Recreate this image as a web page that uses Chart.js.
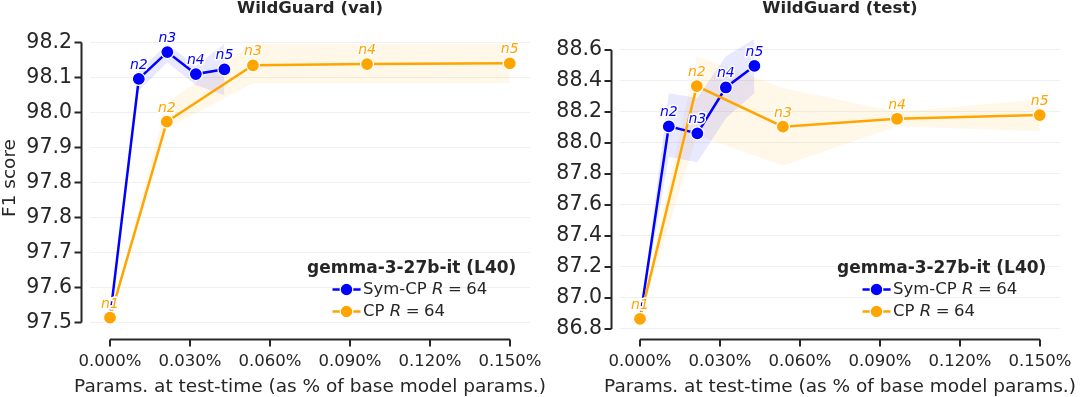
<!DOCTYPE html>
<html>
<head>
<meta charset="utf-8">
<script src="https://cdn.jsdelivr.net/npm/chart.js@4.4.1/dist/chart.umd.min.js"></script>
<style>
  html, body { margin: 0; padding: 0; background: #fff; }
  #wrap { position: relative; width: 1080px; height: 397px; overflow: hidden; }
  canvas { position: absolute; top: 0; }
</style>
</head>
<body>
<div id="wrap">
  <canvas id="valChart" width="560" height="397" style="left:0px"></canvas>
  <canvas id="testChart" width="540" height="397" style="left:540px"></canvas>
</div>
<script>
const INK = "#262626";
const BLUE = "#0000ff";
const ORANGE = "#ffa500";
const FONT = "'DejaVu Sans', sans-serif";

const pointNames = ["n1", "n2", "n3", "n4", "n5"];
const xTicks = [0, 0.03, 0.06, 0.09, 0.12, 0.15];

// params at test-time (% of base model)
const symParams = [0, 0.0108, 0.0215, 0.0322, 0.0429];
const cpParams = [0, 0.0213, 0.0536, 0.0964, 0.1499];

// WildGuard (val)
const valSym = [97.512, 98.109, 98.176, 98.121, 98.133];
const valSymLo = [97.512, 98.08, 98.15, 98.094, 98.068];
const valSymHi = [97.512, 98.128, 98.197, 98.141, 98.197];
const valCp = [97.512, 98.002, 98.143, 98.146, 98.148];
const valCpLo = [97.512, 97.985, 98.098, 98.098, 98.098];
const valCpHi = [97.512, 98.05, 98.197, 98.197, 98.197];
const valTicks = [97.5, 97.5875, 97.675, 97.7625, 97.85, 97.9375, 98.025, 98.1125, 98.2];
const valTickLabels = ["97.5", "97.6", "97.7", "97.8", "97.8", "97.9", "98.0", "98.1", "98.2"];

// WildGuard (test)
const testSym = [86.865, 88.107, 88.062, 88.358, 88.497];
const testSymLo = [86.865, 87.91, 87.875, 88.16, 88.32];
const testSymHi = [86.865, 88.32, 88.29, 88.56, 88.67];
const testCp = [86.865, 88.367, 88.105, 88.156, 88.18];
const testCpLo = [86.865, 88.05, 87.855, 88.108, 88.075];
const testCpHi = [86.865, 88.56, 88.355, 88.2, 88.28];
const testTicks = [86.8, 87.0, 87.2, 87.4, 87.6, 87.8, 88.0, 88.2, 88.4, 88.6];
const testTickLabels = ["86.8", "87.0", "87.2", "87.4", "87.6", "87.8", "88.0", "88.2", "88.4", "88.6"];

const legendTitle = "gemma-3-27b-it (L40)";
const legendNames = ["Sym-CP", "CP"];
const legendColors = [BLUE, ORANGE];

const pts = (xs, ys) => xs.map((x, i) => ({ x: x, y: ys[i] }));

const decor = {
  id: "decor",
  afterDatasetsDraw(chart) {
    const ctx = chart.ctx;
    ctx.save();
    ctx.font = "italic 14px " + FONT;
    ctx.textAlign = "center";
    ctx.textBaseline = "alphabetic";
    ctx.lineJoin = "round";
    // blue labels first, orange on top
    [1, 0].forEach((i) => {
      const ds = chart.data.datasets[i];
      chart.getDatasetMeta(i).data.forEach((el, j) => {
        ctx.lineWidth = 3;
        ctx.strokeStyle = "#fff";
        ctx.strokeText(pointNames[j], el.x, el.y - 10);
        ctx.fillStyle = ds.borderColor;
        ctx.fillText(pointNames[j], el.x, el.y - 10);
      });
    });
    ctx.restore();
  },
  afterDraw(chart, args, opts) {
    const ctx = chart.ctx;
    const ca = chart.chartArea;
    const xs = chart.scales.x, ys = chart.scales.y;
    const sx = ca.left - 8.5, sy = ca.bottom + 8.5;
    ctx.save();
    ctx.strokeStyle = INK;
    ctx.lineWidth = 2;
    // trimmed spines
    ctx.beginPath();
    ctx.moveTo(sx, ys.getPixelForValue(opts.yTicks[0]));
    ctx.lineTo(sx, ys.getPixelForValue(opts.yTicks[opts.yTicks.length - 1]));
    ctx.moveTo(xs.getPixelForValue(xTicks[0]), sy);
    ctx.lineTo(xs.getPixelForValue(xTicks[xTicks.length - 1]), sy);
    opts.yTicks.forEach((v) => {
      const p = ys.getPixelForValue(v);
      ctx.moveTo(sx - 7, p);
      ctx.lineTo(sx, p);
    });
    xTicks.forEach((v) => {
      const p = xs.getPixelForValue(v);
      ctx.moveTo(p, sy);
      ctx.lineTo(p, sy + 7);
    });
    ctx.stroke();

    // x axis title (drawn by hand so it is not squeezed to the axis width)
    ctx.fillStyle = INK;
    ctx.font = "18.5px " + FONT;
    ctx.textAlign = "center";
    ctx.textBaseline = "alphabetic";
    ctx.fillText("Params. at test-time (as % of base model params.)", (ca.left + ca.right) / 2, ca.bottom + 60.5);

    // legend
    const R = ca.right, B = ca.bottom;
    ctx.font = "bold 17px " + FONT;
    ctx.textBaseline = "middle";
    ctx.fillText(legendTitle, R - 118.3, B - 62);
    legendNames.forEach((name, i) => {
      const y = B - 41.5 + i * 22;
      ctx.strokeStyle = legendColors[i];
      ctx.lineWidth = 2.5;
      ctx.beginPath();
      ctx.moveTo(R - 197.5, y);
      ctx.lineTo(R - 169.4, y);
      ctx.stroke();
      ctx.beginPath();
      ctx.arc(R - 183.5, y, 6.3, 0, Math.PI * 2);
      ctx.fillStyle = legendColors[i];
      ctx.fill();
      ctx.strokeStyle = "#fff";
      ctx.lineWidth = 1.2;
      ctx.stroke();
      ctx.fillStyle = INK;
      ctx.textAlign = "left";
      let x = R - 167;
      ctx.font = "16.5px " + FONT;
      ctx.fillText(name + " ", x, y);
      x += ctx.measureText(name + " ").width;
      ctx.font = "italic 16.5px " + FONT;
      ctx.fillText("R", x, y);
      x += ctx.measureText("R").width + 4.5;
      ctx.font = "16.5px " + FONT;
      ctx.fillText("=", x, y);
      x += ctx.measureText("=").width + 4.5;
      ctx.fillText("64", x, y);
    });
    ctx.restore();
  }
};

const lineSet = (label, xs, ys, color, order) => ({
  label: label,
  data: pts(xs, ys),
  borderColor: color,
  backgroundColor: color,
  borderWidth: 2.5,
  pointRadius: 6.5,
  pointBorderWidth: 1.2,
  pointBorderColor: "#fff",
  pointBackgroundColor: color,
  tension: 0,
  fill: false,
  order: order
});

const bandSet = (xs, ys, fill, rgba) => ({
  data: pts(xs, ys),
  borderWidth: 0,
  pointRadius: 0,
  backgroundColor: rgba,
  fill: fill,
  order: 5
});

function makeChart(id, c) {
  const datasets = [
    lineSet("CP", cpParams, c.cp, ORANGE, 0),
    lineSet("Sym-CP", symParams, c.sym, BLUE, 1),
    bandSet(symParams, c.symLo, false, "rgba(0,0,255,0.09)"),
    bandSet(symParams, c.symHi, "-1", "rgba(0,0,255,0.09)"),
    bandSet(cpParams, c.cpLo, false, "rgba(255,165,0,0.09)"),
    bandSet(cpParams, c.cpHi, "-1", "rgba(255,165,0,0.09)")
  ];
  return new Chart(document.getElementById(id), {
    type: "line",
    data: { datasets: datasets },
    plugins: [decor],
    options: {
      responsive: false,
      animation: false,
      devicePixelRatio: 1,
      layout: { padding: { left: 0, right: c.padRight, top: 0, bottom: 0 } },
      plugins: {
        legend: { display: false },
        tooltip: { enabled: false },
        filler: { drawTime: "beforeDatasetsDraw" },
        title: {
          display: true,
          text: c.title,
          fullSize: false,
          color: INK,
          font: { family: FONT, size: 16.5, weight: "bold", lineHeight: 1 },
          padding: { top: 0, bottom: 8.5 }
        },
        decor: { yTicks: c.yTicks }
      },
      scales: {
        x: {
          type: "linear",
          min: -0.0075,
          max: 0.1575,
          afterBuildTicks: (s) => { s.ticks = xTicks.map((v) => ({ value: v })); },
          afterFit: (s) => { s.height = 66; s.paddingLeft = 0; s.paddingRight = 0; },
          grid: { display: false, drawTicks: false },
          border: { display: false },
          ticks: {
            autoSkip: false,
            maxRotation: 0,
            padding: 21,
            color: INK,
            font: { family: FONT, size: 16.5 },
            callback: (v) => v.toFixed(3) + "%"
          }
        },
        y: {
          type: "linear",
          min: c.ymin,
          max: c.ymax,
          afterBuildTicks: (s) => { s.ticks = c.yTicks.map((v) => ({ value: v })); },
          afterFit: (s) => { s.width = c.yWidth; s.paddingTop = 0; s.paddingBottom = 0; },
          grid: { color: "#f0f0f0", lineWidth: 1, drawTicks: false },
          border: { display: false },
          ticks: {
            autoSkip: false,
            padding: 18,
            color: INK,
            font: { family: FONT, size: 20.5 },
            callback: (v, i) => c.yLabels[i]
          },
          title: {
            display: c.yTitle,
            text: "F1 score",
            color: INK,
            font: { family: FONT, size: 18.5, lineHeight: 1 },
            padding: { top: 0.5, bottom: 0 }
          }
        }
      }
    }
  });
}

makeChart("valChart", {
  title: "WildGuard (val)",
  sym: valSym, symLo: valSymLo, symHi: valSymHi,
  cp: valCp, cpLo: valCpLo, cpHi: valCpHi,
  yTicks: valTicks, yLabels: valTickLabels,
  ymin: 97.47875, ymax: 98.24375,
  yWidth: 90, padRight: 30, yTitle: true
});

makeChart("testChart", {
  title: "WildGuard (test)",
  sym: testSym, symLo: testSymLo, symHi: testSymHi,
  cp: testCp, cpLo: testCpLo, cpHi: testCpHi,
  yTicks: testTicks, yLabels: testTickLabels,
  ymin: 86.787, ymax: 88.761,
  yWidth: 80, padRight: 20, yTitle: false
});
</script>
</body>
</html>
